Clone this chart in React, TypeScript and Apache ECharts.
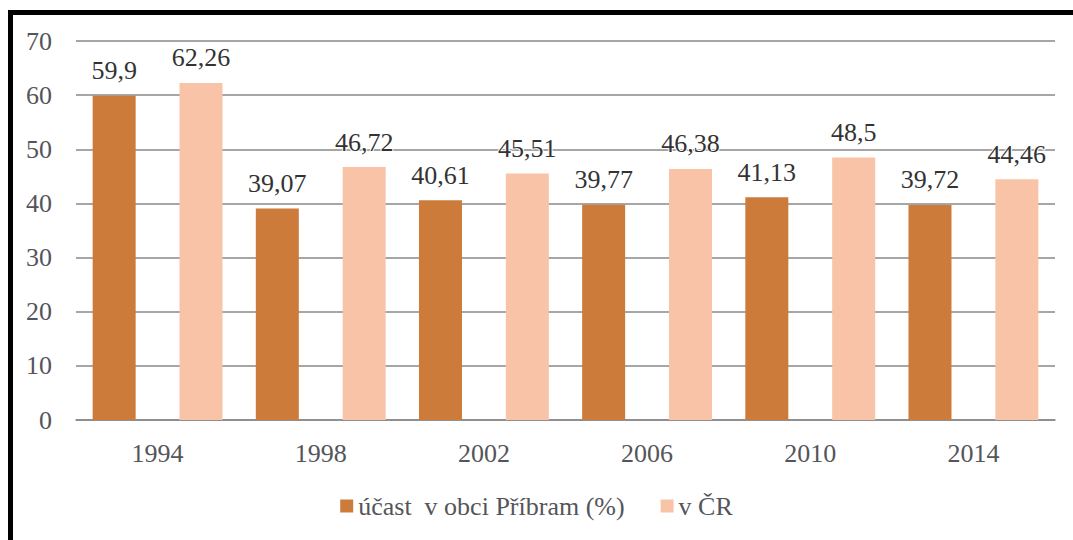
import React, { useEffect, useRef } from "react";
import * as echarts from "echarts";

const categories = ["1994", "1998", "2002", "2006", "2010", "2014"];
const pribram = [59.9, 39.07, 40.61, 39.77, 41.13, 39.72];
const cr = [62.26, 46.72, 45.51, 46.38, 48.5, 44.46];
const seriesNames = ["účast  v obci Příbram (%)", "v ČR"];

const FONT = "Liberation Serif";
const FS = 26;

export default function App() {
  const ref = useRef<HTMLDivElement>(null);
  useEffect(() => {
    document.body.style.margin = "0";
    if (!ref.current) return;
    const chart = echarts.init(ref.current, undefined, { renderer: "svg" });
    chart.setOption({
      animation: false,
      grid: { left: 76, right: 18, top: 41, bottom: 120 },
      legend: {
        bottom: 16,
        left: "center",
        itemWidth: 13,
        itemHeight: 13,
        itemGap: 36,
        icon: "rect",
        textStyle: { fontFamily: FONT, fontSize: FS },
        data: seriesNames,
      },
      xAxis: {
        type: "category",
        data: categories,
        axisLine: { lineStyle: { color: "#888", width: 1.5 } },
        axisTick: { show: false },
        axisLabel: { fontFamily: FONT, fontSize: FS, margin: 20 },
      },
      yAxis: {
        type: "value",
        min: 0,
        max: 70,
        interval: 10,
        axisLine: { show: false },
        axisTick: { show: false },
        splitLine: { lineStyle: { color: "#888", width: 1.5 } },
        axisLabel: { fontFamily: FONT, fontSize: FS, margin: 24 },
      },
      series: [
        {
          name: seriesNames[0],
          type: "bar",
          data: pribram,
          barWidth: 43,
          barGap: "102%",
          itemStyle: { color: "#CD7B3A" },
          label: {
            show: true,
            position: "top",
            distance: 12,
            fontFamily: FONT,
            fontSize: FS,
            formatter: (p: any) => String(p.value).replace(".", ","),
          },
        },
        {
          name: seriesNames[1],
          type: "bar",
          data: cr,
          barWidth: 43,
          itemStyle: { color: "#F9C3A8" },
          label: {
            show: true,
            position: "top",
            distance: 12,
            fontFamily: FONT,
            fontSize: FS,
            formatter: (p: any) => String(p.value).replace(".", ","),
          },
        },
      ],
      textStyle: { color: "#000" },
    });
    return () => chart.dispose();
  }, []);
  return (
    <div style={{ position: "relative", width: 1073, height: 540, overflow: "hidden" }}>
      <div ref={ref} style={{ width: 1073, height: 540 }} />
      <div
        style={{
          position: "absolute",
          left: 8,
          top: 10,
          width: 1065,
          height: 530,
          borderTop: "5px solid #000",
          borderLeft: "5px solid #000",
          boxSizing: "border-box",
          pointerEvents: "none",
        }}
      />
    </div>
  );
}
